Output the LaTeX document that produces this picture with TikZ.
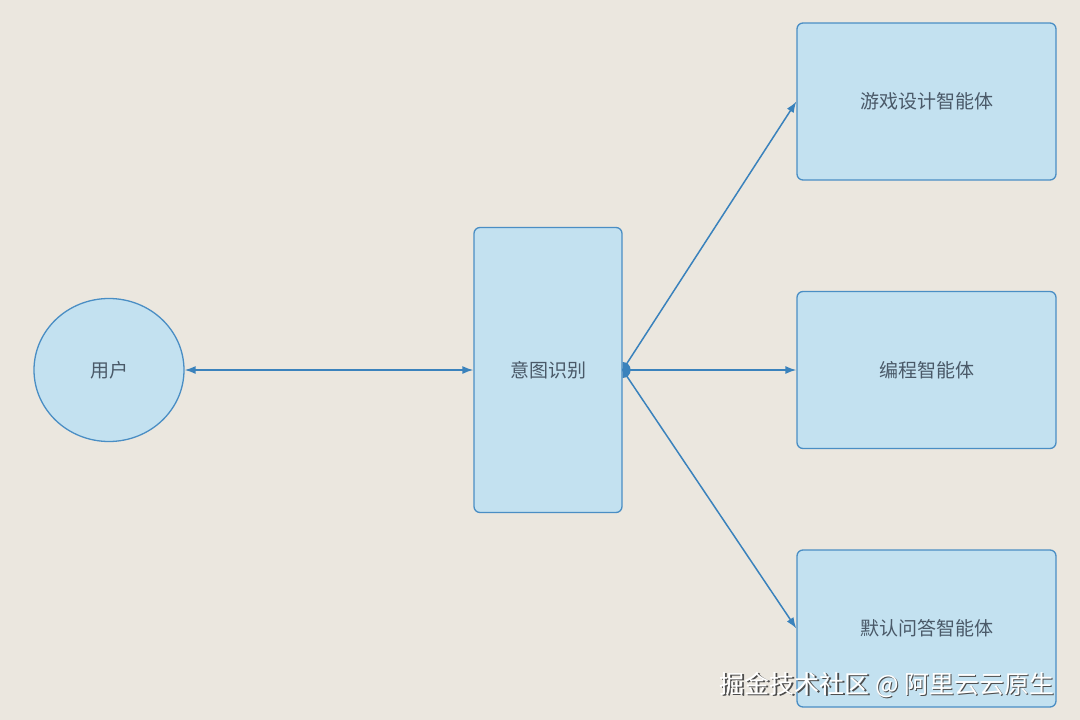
\documentclass[tikz,border=0pt]{standalone}
\usepackage{fontspec}
\usepackage{tikz}
\usetikzlibrary{shapes.geometric,arrows.meta}
\setmainfont{Noto Sans CJK SC}
\definecolor{paper}{HTML}{EBE7DF}
\definecolor{boxfill}{HTML}{C3E1F0}
\definecolor{boxline}{HTML}{4A8EC4}
\definecolor{wire}{HTML}{3A82BC}
\definecolor{label}{HTML}{4A5968}

\begin{document}
\begin{tikzpicture}[x=1pt,y=-1pt,>={Latex[length=11pt,width=8pt]},
  agentbox/.style={draw=boxline, fill=boxfill, line width=1.3pt, rounded corners=6pt,
    text=label, font=\fontsize{19}{22}\selectfont},
  wirearrow/.style={draw=wire, line width=1.5pt}]
 % background and page size
 \fill[paper] (0,0) rectangle (1080,720);
 \useasboundingbox (0,0) rectangle (1080,720);

 % the user
 \node[agentbox, ellipse, minimum width=150pt, minimum height=143pt] (user) at (109,370) {用户};
 % intent recognition
 \node[agentbox, minimum width=148pt, minimum height=285pt] (intent) at (548,370) {意图识别};
 % the agents
 \node[agentbox, minimum width=259pt, minimum height=157pt] (game) at (926.5,101.5) {游戏设计智能体};
 \node[agentbox, minimum width=259pt, minimum height=157pt] (code) at (926.5,370) {编程智能体};
 \node[agentbox, minimum width=259pt, minimum height=157pt] (qa) at (926.5,628.5) {默认问答智能体};

 % connectors
 \draw[wirearrow,<->] (user) -- (intent);
 \foreach \agent in {game,code,qa} {
 \draw[wirearrow,->] (intent.east) -- (\agent.west);
 }
 \begin{scope}
 \clip (intent.east) ++(0,-10) rectangle ++(10,20);
 \fill[wire] (intent.east) ellipse [x radius=8pt, y radius=8pt];
 \end{scope}

 % watermark
 \node[anchor=east, text=black!70, font=\fontsize{25}{29}\selectfont] at (1059.5,686.5) {掘金技术社区 @ 阿里云云原生};
 \node[anchor=east, text=white, font=\fontsize{25}{29}\selectfont] (mark) at (1058,685) {掘金技术社区 @ 阿里云云原生};
\end{tikzpicture}
\end{document}
